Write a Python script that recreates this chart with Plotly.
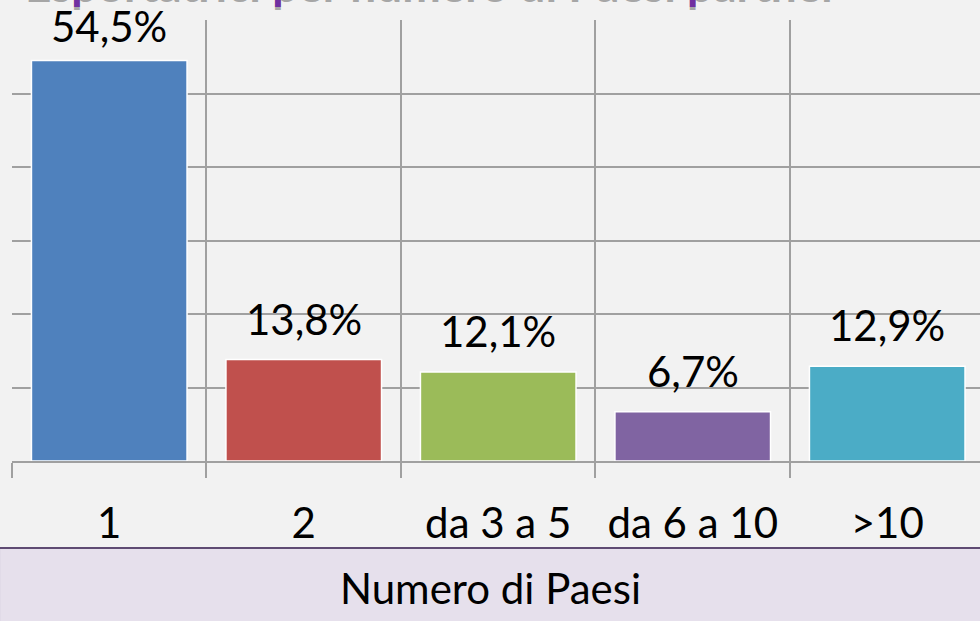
import plotly.graph_objects as go

categories = ["1", "2", "da 3 a 5", "da 6 a 10", ">10"]
values = [54.5, 13.8, 12.1, 6.7, 12.9]
labels = ["54,5%", "13,8%", "12,1%", "6,7%", "12,9%"]
colors = ["#4F81BD", "#C0504D", "#9BBB59", "#8064A2", "#4BACC6"]
title_text = "Esportatrici per numero di Paesi partner"
axis_title = "Numero di Paesi"

FONT = "Lato"
GRID = "#A0A0A0"

fig = go.Figure()
fig.add_trace(go.Bar(
    x=categories, y=values,
    marker=dict(color=colors, line=dict(color="white", width=1.5)),
    hoverinfo="skip",
))

for i, (v, t) in enumerate(zip(values, labels)):
    shift = 14 - (7 if v == max(values) else 0)
    fig.add_annotation(x=i, y=v, text=t, showarrow=False, yanchor="bottom",
                       yshift=shift, font=dict(family=FONT, size=42, color="black"))

# partially visible title (cut by the top edge)
fig.add_annotation(xref="paper", yref="paper", x=0.0114, y=1.0454, xanchor="left",
                   yanchor="bottom", yshift=-14, text="<b>" + title_text + "</b>",
                   showarrow=False, font=dict(family=FONT, size=46, color="#A6A6A6"))
fig.add_annotation(xref="paper", yref="paper", x=0.0114, y=1.0454, xanchor="left",
                   yanchor="bottom", yshift=-11, text="<b>" + title_text + "</b>",
                   showarrow=False, font=dict(family=FONT, size=46, color="#7030A0"))

# axis title box
fig.add_shape(type="rect", xref="paper", yref="paper",
              x0=-0.0134, x1=1.01, y0=-0.45, y1=-0.1973,
              line=dict(color="#5F4B73", width=2), fillcolor="#E6E0EC", layer="above")
fig.add_annotation(xref="paper", yref="paper", x=0.494, y=-0.2875, text=axis_title,
                   showarrow=False, font=dict(family=FONT, size=42, color="black"),
                   xanchor="center", yanchor="middle")

fig.update_layout(
    width=980, height=621,
    margin=dict(l=12, r=0, t=20, b=160),
    paper_bgcolor="#F2F2F2", plot_bgcolor="#F2F2F2",
    bargap=0.2, showlegend=False,
    xaxis=dict(type="category", range=[-0.5, 4.477], tickson="boundaries",
               showgrid=True, gridcolor=GRID, gridwidth=1.5,
               ticks="outside", ticklen=15, tickcolor=GRID, tickwidth=1.5,
               showline=True, linecolor=GRID, linewidth=1.5,
               tickfont=dict(family=FONT, size=42, color="black"),
               ticklabelstandoff=25),
    yaxis=dict(range=[0, 60], dtick=10, showgrid=True, gridcolor=GRID, gridwidth=1.5,
               showticklabels=False, zeroline=False, showline=False, ticks=""),
)

fig.write_html("out.html", config={"displayModeBar": False},
               post_script="document.body.style.margin='0';document.body.style.overflow='hidden';")
